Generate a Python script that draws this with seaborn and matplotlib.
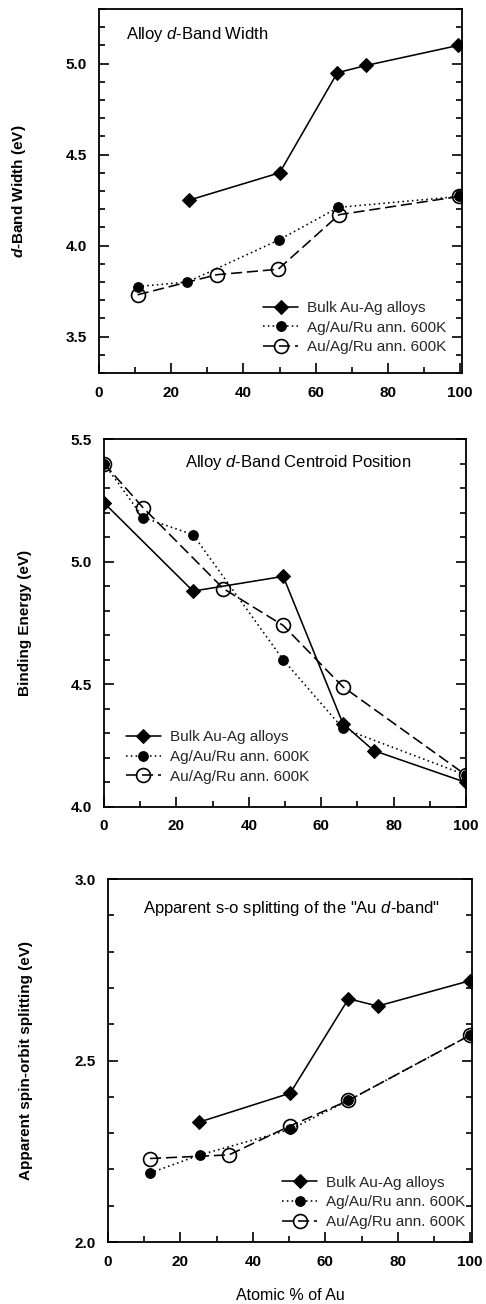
import matplotlib
matplotlib.use("Agg")
import matplotlib.pyplot as plt
from matplotlib.ticker import MultipleLocator
import numpy as np
import pandas as pd
import seaborn as sns

# ---- data -------------------------------------------------------------
series_names = ["Bulk Au-Ag alloys", "Ag/Au/Ru ann. 600K", "Au/Ag/Ru ann. 600K"]

# d-band width (eV)
width_bulk_x = [25, 50, 66, 74, 99.5]
width_bulk_y = [4.25, 4.40, 4.95, 4.99, 5.10]
width_agau_x = [10.7, 24.5, 49.7, 66.3, 99.7]
width_agau_y = [3.775, 3.80, 4.03, 4.21, 4.27]
width_auag_x = [10.7, 32.6, 49.6, 66.5, 99.7]
width_auag_y = [3.73, 3.84, 3.87, 4.17, 4.27]

# d-band centroid binding energy (eV)
cent_bulk_x = [0, 24.6, 49.5, 66, 74.5, 100]
cent_bulk_y = [5.24, 4.88, 4.94, 4.34, 4.23, 4.10]
cent_agau_x = [0, 10.8, 24.6, 49.5, 66, 100]
cent_agau_y = [5.40, 5.18, 5.11, 4.60, 4.32, 4.13]
cent_auag_x = [0, 10.8, 33, 49.5, 66, 100]
cent_auag_y = [5.40, 5.22, 4.89, 4.74, 4.49, 4.13]

# apparent spin-orbit splitting (eV)
so_bulk_x = [25.1, 50.3, 66.4, 74.5, 100]
so_bulk_y = [2.33, 2.41, 2.67, 2.65, 2.72]
so_agau_x = [11.6, 25.4, 50.3, 66.4, 100]
so_agau_y = [2.19, 2.24, 2.31, 2.39, 2.57]
so_auag_x = [11.6, 33.4, 50.3, 66.4, 100]
so_auag_y = [2.23, 2.24, 2.32, 2.39, 2.57]

# ---- style ------------------------------------------------------------
sns.set_theme(style="ticks")
plt.rcParams["font.family"] = ["Liberation Sans", "DejaVu Sans"]
plt.rcParams["mathtext.fontset"] = "custom"
plt.rcParams["mathtext.rm"] = "Liberation Sans"
plt.rcParams["mathtext.it"] = "Liberation Sans:italic"
plt.rcParams["mathtext.bf"] = "Liberation Sans:bold"
plt.rcParams["mathtext.bfit"] = "Liberation Sans:bold:italic"

styles = [
    dict(marker="D", markersize=7, linestyle="-", markerfacecolor="black",
         markeredgecolor="black"),
    dict(marker="o", markersize=7, linestyle=(0, (1, 2.0)), markerfacecolor="black",
         markeredgecolor="black"),
    dict(marker="o", markersize=10, linestyle=(0, (7, 3)), markerfacecolor="none",
         markeredgecolor="black", markeredgewidth=1.2),
]

fig = plt.figure(figsize=(4.86, 13.04), dpi=100)
W, H = 486, 1304


def add_axes_px(left, right, top, bottom):
    return fig.add_axes([left / W, 1 - bottom / H, (right - left) / W, (bottom - top) / H])


def draw_panel(ax, xs, ys, ylim, ymajor, xlim, ylabel, title, title_xy,
               legend_anchor, legend_loc, ylabel_x):
    for name, x, y, st in zip(series_names, xs, ys, styles):
        df = pd.DataFrame({"x": x, "y": y})
        sns.lineplot(data=df, x="x", y="y", ax=ax, color="black", linewidth=1.15,
                     estimator=None, sort=False, label=name, **st)
    ax.set_xlim(*xlim)
    ax.set_ylim(*ylim)
    ax.xaxis.set_major_locator(MultipleLocator(20))
    ax.xaxis.set_minor_locator(MultipleLocator(10))
    ax.yaxis.set_major_locator(MultipleLocator(ymajor))
    ax.yaxis.set_minor_locator(MultipleLocator(0.1))
    ax.tick_params(axis="both", which="both", direction="in", right=True, top=False,
                   width=1.2, labelsize=11, colors="black")
    ax.tick_params(axis="both", which="major", length=7, pad=9)
    ax.tick_params(axis="both", which="minor", length=4)
    for lab in ax.get_xticklabels() + ax.get_yticklabels():
        lab.set_fontweight("bold")
    for sp in ax.spines.values():
        sp.set_visible(True)
        sp.set_linewidth(1.3)
        sp.set_color("black")
    ax.set_xlabel("")
    ax.set_ylabel(ylabel, fontsize=11, fontweight="bold", color="black")
    ax.yaxis.set_label_coords(ylabel_x, 0.5)
    ax.text(title_xy[0], title_xy[1], title, transform=ax.transAxes, fontsize=12,
            ha="left", va="center", color="black")
    ax.legend(loc=legend_loc, bbox_to_anchor=legend_anchor, frameon=False,
              fontsize=11, handlelength=2.3, handletextpad=0.6, labelspacing=0.37,
              borderpad=0, borderaxespad=0)
    ax.set_facecolor("white")


ax1 = add_axes_px(99, 462, 9, 373)
draw_panel(ax1, [width_bulk_x, width_agau_x, width_auag_x],
           [width_bulk_y, width_agau_y, width_auag_y],
           (3.3, 5.3), 0.5, (0, 100.5),
           r"$\mathbfit{d}$-Band Width (eV)", r"Alloy $\mathit{d}$-Band Width",
           (0.074, 0.931), (0.452, 0.198), "upper left", -0.196)

ax2 = add_axes_px(104, 466, 439, 807)
draw_panel(ax2, [cent_bulk_x, cent_agau_x, cent_auag_x],
           [cent_bulk_y, cent_agau_y, cent_auag_y],
           (4.0, 5.5), 0.5, (0, 100),
           "Binding Energy (eV)", r"Alloy $\mathit{d}$-Band Centroid Position",
           (0.224, 0.935), (0.06, 0.208), "upper left", -0.199)

ax3 = add_axes_px(108, 472, 879, 1242)
draw_panel(ax3, [so_bulk_x, so_agau_x, so_auag_x],
           [so_bulk_y, so_agau_y, so_auag_y],
           (2.0, 3.0), 0.5, (0, 100.5),
           "Apparent spin-orbit splitting (eV)",
           r'Apparent s-o splitting of the "Au $\mathit{d}$-band"',
           (0.096, 0.92), (0.478, 0.183), "upper left", -0.206)
ax3.set_xlabel("Atomic % of Au", fontsize=11.5, color="black", labelpad=14)

fig.savefig("out.png", dpi=100, facecolor="white")
